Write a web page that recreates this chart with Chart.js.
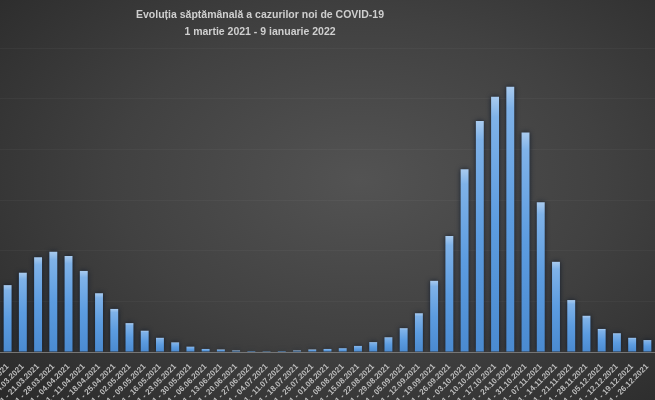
<!DOCTYPE html>
<html>
<head>
<meta charset="utf-8">
<script src="https://cdn.jsdelivr.net/npm/chart.js@4.4.1/dist/chart.umd.min.js"></script>
<style>
  html, body { margin: 0; padding: 0; }
  body {
    width: 655px; height: 400px; overflow: hidden; position: relative;
    background: radial-gradient(ellipse 75% 80% at 55% 45%, #535353 0%, #414141 50%, #2a2a2a 100%);
  }
  #wrap { position: absolute; left: 0; top: 0; width: 655px; height: 400px; }
  #title {
    position: absolute; left: 60px; width: 400px; top: 6px;
    text-align: center; color: #cfcfcf;
    font-family: "Liberation Sans", Arial, sans-serif; font-weight: bold;
    font-size: 10.5px; line-height: 17px;
  }
</style>
</head>
<body>
<div id="wrap"><canvas id="c" width="655" height="400"></canvas></div>
<div id="title">Evoluția săptămânală a cazurilor noi de COVID-19<br>1 martie 2021 - 9 ianuarie 2022</div>
<script>
const weekLabels = [
  "01.03.2021 - 07.03.2021","08.03.2021 - 14.03.2021","15.03.2021 - 21.03.2021","22.03.2021 - 28.03.2021",
  "29.03.2021 - 04.04.2021","05.04.2021 - 11.04.2021","12.04.2021 - 18.04.2021","19.04.2021 - 25.04.2021",
  "26.04.2021 - 02.05.2021","03.05.2021 - 09.05.2021","10.05.2021 - 16.05.2021","17.05.2021 - 23.05.2021",
  "24.05.2021 - 30.05.2021","31.05.2021 - 06.06.2021","07.06.2021 - 13.06.2021","14.06.2021 - 20.06.2021",
  "21.06.2021 - 27.06.2021","28.06.2021 - 04.07.2021","05.07.2021 - 11.07.2021","12.07.2021 - 18.07.2021",
  "19.07.2021 - 25.07.2021","26.07.2021 - 01.08.2021","02.08.2021 - 08.08.2021","09.08.2021 - 15.08.2021",
  "16.08.2021 - 22.08.2021","23.08.2021 - 29.08.2021","30.08.2021 - 05.09.2021","06.09.2021 - 12.09.2021",
  "13.09.2021 - 19.09.2021","20.09.2021 - 26.09.2021","27.09.2021 - 03.10.2021","04.10.2021 - 10.10.2021",
  "11.10.2021 - 17.10.2021","18.10.2021 - 24.10.2021","25.10.2021 - 31.10.2021","01.11.2021 - 07.11.2021",
  "08.11.2021 - 14.11.2021","15.11.2021 - 21.11.2021","22.11.2021 - 28.11.2021","29.11.2021 - 05.12.2021",
  "06.12.2021 - 12.12.2021","13.12.2021 - 19.12.2021","20.12.2021 - 26.12.2021"
];
const weeklyCases = [
  26400, 31300, 37400, 39600, 37900, 32000, 23200, 17000, 11400, 8400,
  5600, 3800, 2100, 1200, 1000, 600, 400, 350, 400, 600,
  1000, 1200, 1500, 2400, 3900, 5800, 9400, 15300, 28100, 45800,
  72100, 91200, 100800, 104700, 86600, 59100, 35600, 20500, 14300, 9100,
  7400, 5600, 4700
];
const yMax = 120000;
const yStep = 20000;

const shadowPlugin = {
  id: 'barShadow',
  beforeDatasetsDraw(chart) {
    const ctx = chart.ctx;
    ctx.save();
    ctx.shadowColor = 'rgba(8,20,40,0.85)';
    ctx.shadowBlur = 5;
    ctx.shadowOffsetX = 0;
    ctx.shadowOffsetY = 0;
  },
  afterDatasetsDraw(chart) {
    chart.ctx.restore();
  }
};

function barFill(context) {
  const chart = context.chart;
  const area = chart.chartArea;
  if (!area || context.raw == null) return '#5b9bd5';
  const yTop = chart.scales.y.getPixelForValue(context.raw);
  const yBot = chart.scales.y.getPixelForValue(0);
  if (!isFinite(yTop) || yBot - yTop < 1) return '#6aa6e2';
  const g = chart.ctx.createLinearGradient(0, yTop, 0, yBot);
  g.addColorStop(0, '#a9cbef');
  g.addColorStop(0.08, '#7fb2e8');
  g.addColorStop(0.5, '#5c9ce0');
  g.addColorStop(1, '#4a8ad0');
  return g;
}

new Chart(document.getElementById('c'), {
  type: 'bar',
  data: {
    labels: weekLabels,
    datasets: [{
      label: 'Cazuri noi',
      data: weeklyCases,
      backgroundColor: barFill,
      borderWidth: 0,
      categoryPercentage: 1.0,
      barPercentage: 0.52
    }]
  },
  options: {
    responsive: false,
    animation: false,
    devicePixelRatio: 1,
    layout: { padding: { left: -3, right: -4, top: 48, bottom: 0 } },
    plugins: {
      legend: { display: false },
      title: { display: false },
      tooltip: { enabled: false }
    },
    scales: {
      x: {
        offset: true,
        grid: { display: false },
        border: { display: true, color: '#767676', width: 1 },
        ticks: {
          autoSkip: false,
          minRotation: 45,
          maxRotation: 45,
          color: '#bdbdbd',
          padding: 2,
          font: { family: 'Liberation Sans', size: 8, weight: 'bold' }
        },
        afterFit(scale) {
          scale.height = 48;
          scale.paddingLeft = 0;
          scale.paddingRight = 0;
        }
      },
      y: {
        min: 0,
        max: yMax,
        ticks: { display: false, stepSize: yStep },
        grid: { color: 'rgba(255,255,255,0.035)', drawTicks: false },
        border: { display: false },
        afterFit(scale) { scale.width = 0; }
      }
    }
  },
  plugins: [shadowPlugin]
});
</script>
</body>
</html>
